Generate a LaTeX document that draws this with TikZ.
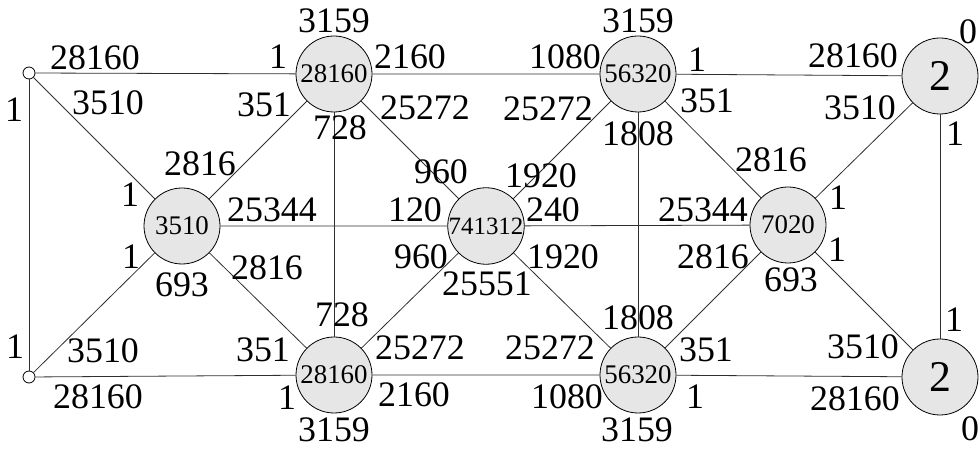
\documentclass[tikz,border=0pt]{standalone}
\usepackage{fontspec}
\setmainfont{Liberation Serif}
\usepackage{tikz}
\usetikzlibrary{positioning}
\definecolor{vtxfill}{HTML}{E6E6E6}
\definecolor{edgegray}{HTML}{303030}

\begin{document}
\begin{tikzpicture}[
    x=1bp, y=-1bp,
    vtx/.style={circle, draw=black, fill=vtxfill, line width=0.8bp,
                minimum size=76bp, inner sep=0pt, font=\fontsize{27}{30}\selectfont},
    bigvtx/.style={vtx, font=\fontsize{44}{48}\selectfont},
    port/.style={circle, draw=black, fill=white, line width=0.8bp,
                 minimum size=12bp, inner sep=0pt},
    lbl/.style={inner sep=0pt, font=\fontsize{36}{40}\selectfont},
    edge/.style={draw=edgegray, line width=0.8bp},
]
    \useasboundingbox (0,0) rectangle (980,449);

    % nodes
    \node[port] (pt) at (29,73) {};
    \node[port] (pb) at (29,377) {};
    \node[vtx] (ta) at (334,74) {28160};
    \node[vtx] (tb) at (638,74) {56320};
    \node[bigvtx] (tc) at (940,76) {2};
    \node[vtx] (ma) at (182,226) {3510};
    \node[vtx, font=\fontsize{25}{28}\selectfont] (mb) at (486,226) {741312};
    \node[vtx] (mc) at (788,225) {7020};
    \node[vtx] (ba) at (334,375) {28160};
    \node[vtx] (bb) at (638,375) {56320};
    \node[bigvtx] (bc) at (940,377) {2};

    % edges
    \draw[edge] (pt) -- (ta) -- (tb) -- (tc);
    \draw[edge] (pb) -- (ba) -- (bb) -- (bc);
    \draw[edge] (ma) -- (mb) -- (mc);
    \draw[edge] (pt) -- (pb);
    \draw[edge] (ta) -- (ba);
    \draw[edge] (tb) -- (bb);
    \draw[edge] (tc) -- (bc);
    \draw[edge] (pt) -- (ma) -- (pb);
    \draw[edge] (ta) -- (ma) -- (ba);
    \draw[edge] (ta) -- (mb) -- (ba);
    \draw[edge] (tb) -- (mb) -- (bb);
    \draw[edge] (tb) -- (mc) -- (bb);
    \draw[edge] (tc) -- (mc) -- (bc);

    % edge weights
    \foreach \x/\y/\t [count=\i] in {
        95/58/28160, 278/57/1, 108/103/3510, 14/110/1, 264/105/351,
        200/164/2816, 130/195/1, 272/210/25344, 334/21/3159, 340/128/728,
        410/57/2160, 425/108/25272, 565/57/1080, 548/109/25272, 441/172/960,
        541/176/1920, 415/210/120, 553/210/240, 638/21/3159, 638/134/1808,
        697/60/1, 707/101/351, 853/56/28160, 968/32/0, 860/108/3510,
        955/134/1, 771/160/2816, 838/198/1, 703/210/25344,
        131/257/1, 182/285/693, 267/268/2816, 15/347/1, 103/351/3510,
        263/350/351, 98/397/28160, 287/398/1, 334/430/3159, 342/315/728,
        421/257/960, 563/257/1920, 487/284/25551, 420/348/25272, 550/348/25272,
        414/395/2160, 567/397/1080, 638/318/1808, 637/430/3159,
        713/257/2816, 837/250/1, 791/280/693, 706/350/351, 695/397/1,
        863/347/3510, 855/399/28160, 954/320/1, 970/429/0}
        \node[lbl] (w\i) at (\x,\y) {\t};
\end{tikzpicture}
\end{document}
